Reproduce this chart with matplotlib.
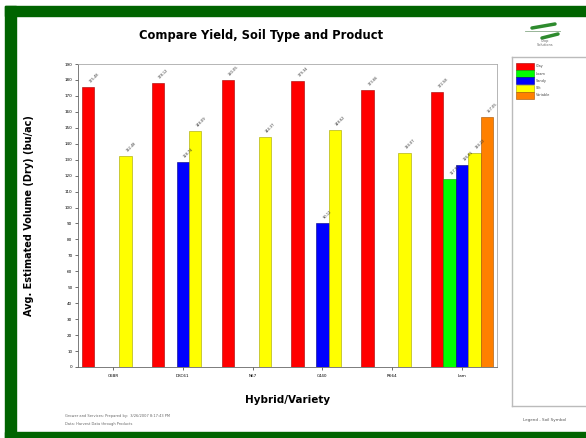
import numpy as np
import matplotlib
matplotlib.use("Agg")
import matplotlib.pyplot as plt
from matplotlib.patches import Rectangle

# Data
hybrids = ["C6BR", "DKC61", "N67", "C440", "R664", "Lam"]
soils = ["Clay", "Loam", "Sandy", "Silt", "Variable"]
soil_colors = ["#ff0000", "#00ff00", "#0000ff", "#ffff00", "#ff8000"]
soil_edges = ["#a00000", "#00a000", "#000080", "#a0a000", "#a05000"]

# one list per soil type, nan where a hybrid has no value
clay = [175.48, 178.12, 180.05, 179.34, 173.66, 172.58]
loam = [np.nan, np.nan, np.nan, np.nan, np.nan, 117.92]
sandy = [np.nan, 128.74, np.nan, 90.12, np.nan, 126.61]
silt = [132.48, 148.09, 144.37, 148.62, 134.07, 134.22]
variable = [np.nan, np.nan, np.nan, np.nan, np.nan, 157.05]
series = [clay, loam, sandy, silt, variable]

fig = plt.figure(figsize=(5.86, 4.38), dpi=100)
fig.patch.set_facecolor("white")

# green frame
green = "#006400"
fig.patches.append(Rectangle((5 / 586, 0), 11 / 586, 1 - 6 / 438, transform=fig.transFigure,
                             color=green, zorder=0))
fig.patches.append(Rectangle((5 / 586, 1 - 16 / 438), 1, 10 / 438, transform=fig.transFigure,
                             color=green, zorder=0))
fig.patches.append(Rectangle((5 / 586, 0), 1, 6 / 438, transform=fig.transFigure,
                             color=green, zorder=0))

ax = fig.add_axes([78 / 586, 1 - 367 / 438, (497 - 78) / 586, (367 - 64) / 438])

x = np.arange(len(hybrids))
w = 0.178
for i, vals in enumerate(series):
    pos = x + (i - 2) * w
    ax.bar(pos, vals, width=w, color=soil_colors[i], edgecolor=soil_edges[i], linewidth=0.4)
    for p, v in zip(pos, vals):
        if not np.isnan(v):
            ax.text(p, v + 2, f"{v:.2f}", rotation=45, fontsize=2.6, ha="left", va="bottom",
                    color="#333333")

ax.set_xlim(-0.5, len(hybrids) - 0.5)
ax.set_ylim(0, 190)
ax.set_yticks(np.arange(0, 191, 10))
ax.set_xticks(x)
ax.set_xticklabels(hybrids, fontsize=3)
ax.tick_params(axis="y", labelsize=3, length=2, width=0.4, pad=2)
ax.tick_params(axis="x", length=2, width=0.4, pad=3)
for s in ax.spines.values():
    s.set_color("#aaaaaa")
    s.set_linewidth(0.6)
ax.spines["left"].set_color("#666666")
ax.spines["bottom"].set_color("#666666")
ax.set_ylabel("Avg. Estimated Volume (Dry) (bu/ac)", fontsize=7, fontweight="bold", labelpad=22)
ax.set_xlabel("Hybrid/Variety", fontsize=7.5, fontweight="bold", labelpad=12)

fig.text(261 / 586, 1 - 35 / 438, "Compare Yield, Soil Type and Product", fontsize=8.3,
         fontweight="bold", ha="center", va="center")

# legend panel
lax = fig.add_axes([512 / 586, 1 - 406 / 438, 80 / 586, (406 - 57) / 438])
lax.set_xlim(0, 80)
lax.set_ylim(349, 0)
lax.set_xticks([])
lax.set_yticks([])
for s in lax.spines.values():
    s.set_color("#bbbbbb")
    s.set_linewidth(1)
for i, (name, c, e) in enumerate(zip(soils, soil_colors, soil_edges)):
    y0 = 6 + i * 7.2
    lax.add_patch(Rectangle((4, y0), 18, 7, facecolor=c, edgecolor=e, linewidth=0.4))
    lax.text(24, y0 + 3.5, name, fontsize=2.5, va="center", color="#444444")
fig.text(545 / 586, 1 - 420 / 438, "Legend - Soil Symbol", fontsize=3, ha="center",
         va="center", color="#555555")

# logo in the corner
gax = fig.add_axes([520 / 586, 1 - 48 / 438, 50 / 586, 30 / 438])
gax.axis("off")
gax.set_xlim(0, 50)
gax.set_ylim(30, 0)
gax.plot([12, 35], [10, 6], color="#2e8b2e", lw=2.5, solid_capstyle="round")
gax.plot([5, 40], [13, 13], color="#88aa88", lw=0.6)
gax.plot([22, 38], [20, 16], color="#2e8b2e", lw=2.5, solid_capstyle="round")
gax.text(25, 24, "Crop", fontsize=2.5, ha="center", color="#666666")
gax.text(25, 28, "Solutions", fontsize=2.5, ha="center", color="#666666")

fig.text(65 / 586, 1 - 416 / 438, "Grower and Services: Prepared by:  3/26/2007 8:17:43 PM",
         fontsize=2.6, color="#666666", va="center")
fig.text(65 / 586, 1 - 424 / 438, "Data: Harvest Data through Products",
         fontsize=2.6, color="#666666", va="center")

fig.savefig("out.png", dpi=100)
